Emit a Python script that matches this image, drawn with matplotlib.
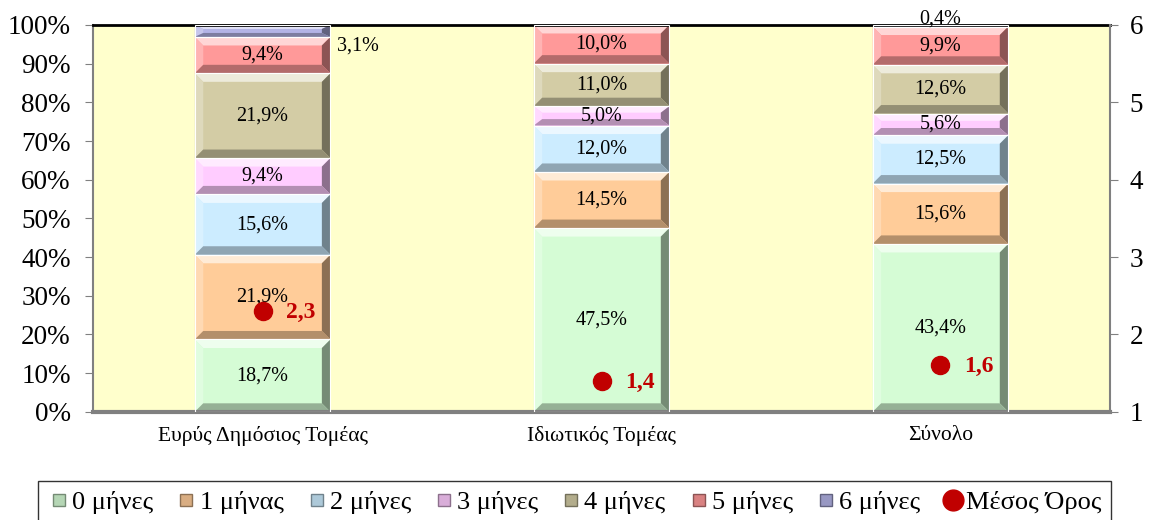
import numpy as np
import matplotlib.pyplot as plt
from matplotlib.patches import Polygon, Rectangle
from matplotlib.lines import Line2D
from matplotlib.colors import to_rgb

plt.rcParams['font.family'] = ['Liberation Serif', 'DejaVu Serif']

categories = ['Ευρύς Δημόσιος Τομέας', 'Ιδιωτικός Τομέας', 'Σύνολο']
series_names = ['0 μήνες', '1 μήνας', '2 μήνες', '3 μήνες', '4 μήνες', '5 μήνες', '6 μήνες']
values = [
    [18.7, 47.5, 43.4],   # 0 μήνες
    [21.9, 14.5, 15.6],   # 1 μήνας
    [15.6, 12.0, 12.5],   # 2 μήνες
    [9.4, 5.0, 5.6],      # 3 μήνες
    [21.9, 11.0, 12.6],   # 4 μήνες
    [9.4, 10.0, 9.9],     # 5 μήνες
    [3.1, 0.0, 0.4],      # 6 μήνες
]
mean_values = [2.3, 1.4, 1.6]
mean_name = 'Μέσος Όρος'

colors = ['#D5FCD5', '#FFCC99', '#CCECFF', '#FFCCFF', '#D3CCA5', '#FF9999', '#B3B3E6']


def mix(c, other, t):
    c = np.array(to_rgb(c))
    o = np.array(to_rgb(other))
    return tuple(c * (1 - t) + o * t)


def bevel_bar(ax, x, bottom, h, w, color, bx, by):
    # flat face plus four bevel trapezoids (light top/left, dark bottom/right)
    x0, x1 = x - w / 2, x + w / 2
    y0, y1 = bottom, bottom + h
    by = min(by, h / 3)
    ax.add_patch(Rectangle((x0, y0), w, h, facecolor=color, edgecolor='none', zorder=2))
    ix0, ix1, iy0, iy1 = x0 + bx, x1 - bx, y0 + by, y1 - by
    faces = [
        ([(x0, y1), (x1, y1), (ix1, iy1), (ix0, iy1)], mix(color, 'white', 0.6)),
        ([(x0, y0), (ix0, iy0), (ix0, iy1), (x0, y1)], mix(color, 'white', 0.25)),
        ([(x1, y0), (x1, y1), (ix1, iy1), (ix1, iy0)], mix(color, 'black', 0.45)),
        ([(x0, y0), (x1, y0), (ix1, iy0), (ix0, iy0)], mix(color, 'black', 0.3)),
    ]
    for pts, fc in faces:
        ax.add_patch(Polygon(pts, closed=True, facecolor=fc, edgecolor='none', zorder=2))
    ax.add_patch(Rectangle((x0, y0), w, h, facecolor='none', edgecolor='white', lw=0.8, zorder=3))


fig = plt.figure(figsize=(11.49, 5.20), dpi=100)
ax = fig.add_axes([0.081, 0.208, 0.885, 0.744])
ax.set_facecolor('#FFFFCC')

x = np.arange(len(categories))
bar_w = 0.4
bottoms = np.zeros(len(categories))
for i, vals in enumerate(values):
    for j, v in enumerate(vals):
        if v > 0:
            bevel_bar(ax, x[j], bottoms[j], v, bar_w, colors[i], 0.025, 2.2)
            lab = f'{v:.1f}'.replace('.', ',') + '%'
            if i == len(values) - 1 and j == 0:
                ax.text(x[j] + bar_w / 2 + 0.02, bottoms[j] + v / 2 - 4.0, lab,
                        ha='left', va='center', fontsize=14.5, zorder=5)
            elif i == len(values) - 1:
                ax.text(x[j], bottoms[j] + v + 1.5, lab, ha='center', va='center',
                        fontsize=14.5, zorder=5)
            else:
                ax.text(x[j], bottoms[j] + v / 2, lab, ha='center', va='center',
                        fontsize=14.5, zorder=5)
    bottoms += np.array(vals)

ax.set_xlim(-0.5, len(categories) - 0.5)
ax.set_ylim(0, 100)
ax.set_yticks(np.arange(0, 101, 10))
ax.set_yticklabels([f'{t}%' for t in range(0, 101, 10)])
ax.set_xticks(x)
ax.set_xticklabels(categories, fontsize=15.5)
ax.tick_params(axis='y', labelsize=19.5, length=6, color='#808080', pad=10)
ax.tick_params(axis='x', length=0, pad=10)
for s in ['left', 'bottom']:
    ax.spines[s].set_color('#808080')
ax.spines['left'].set_linewidth(1.5)
ax.spines['bottom'].set_linewidth(3)
ax.spines['top'].set_color('black')
ax.spines['top'].set_linewidth(2)
ax.spines['right'].set_visible(False)

ax2 = ax.twinx()
ax2.set_ylim(1, 6)
ax2.set_yticks(range(1, 7))
ax2.tick_params(axis='y', labelsize=19.5, length=6, color='#808080', pad=8)
ax2.spines['right'].set_color('#808080')
ax2.spines['right'].set_linewidth(1.5)
for s in ['left', 'top', 'bottom']:
    ax2.spines[s].set_visible(False)
ax2.plot(x, mean_values, 'o', color='#C00000', markersize=13, zorder=6)
for j, m in enumerate(mean_values):
    ax2.annotate(f'{m:.1f}'.replace('.', ','), (x[j], m), xytext=(17, -1),
                 textcoords='offset points', ha='left', va='center',
                 fontsize=17, fontweight='bold', color='#C00000')

handles = [Line2D([], [], marker='s', ls='none', markersize=8,
                  markerfacecolor=mix(c, 'black', 0.15), markeredgecolor=mix(c, 'black', 0.45))
           for c in colors]
handles.append(Line2D([], [], marker='o', ls='none', markersize=15, color='#C00000'))
leg = fig.legend(handles, series_names + [mean_name], loc='upper center',
                 bbox_to_anchor=(0.5, 0.1), ncol=8, fontsize=19, frameon=True,
                 fancybox=False, edgecolor='black', handletextpad=0.05,
                 columnspacing=0.8, borderpad=0.35, handlelength=0.9)
leg.get_frame().set_linewidth(1)

fig.savefig('out.png', dpi=100)
